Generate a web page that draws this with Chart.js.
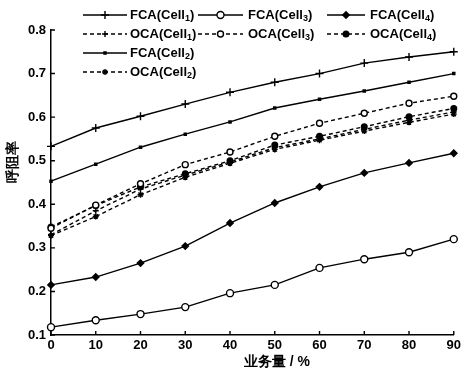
<!DOCTYPE html>
<html>
<head>
<meta charset="utf-8">
<script src="https://cdn.jsdelivr.net/npm/chart.js@4.4.1/dist/chart.umd.min.js"></script>
<style>
  html, body { margin: 0; padding: 0; background: #fff; }
  #wrap { width: 464px; height: 372px; position: relative; }
</style>
</head>
<body>
<div id="wrap"><canvas id="c" width="464" height="372"></canvas></div>
<script>
// ---- data ----
const categories = [0, 10, 20, 30, 40, 50, 60, 70, 80, 90];
const fcaCell1 = [0.533, 0.575, 0.602, 0.630, 0.657, 0.680, 0.700, 0.724, 0.738, 0.750];
const fcaCell2 = [0.453, 0.492, 0.531, 0.561, 0.589, 0.621, 0.641, 0.660, 0.680, 0.700];
const fcaCell3 = [0.118, 0.134, 0.148, 0.164, 0.196, 0.215, 0.254, 0.274, 0.290, 0.320];
const fcaCell4 = [0.215, 0.233, 0.265, 0.304, 0.357, 0.403, 0.440, 0.472, 0.495, 0.517];
const ocaCell1 = [0.330, 0.385, 0.435, 0.467, 0.497, 0.530, 0.550, 0.572, 0.593, 0.612];
const ocaCell2 = [0.328, 0.372, 0.422, 0.462, 0.494, 0.526, 0.547, 0.568, 0.588, 0.607];
const ocaCell3 = [0.345, 0.398, 0.447, 0.491, 0.520, 0.556, 0.586, 0.609, 0.632, 0.648];
const ocaCell4 = [0.348, 0.397, 0.440, 0.470, 0.500, 0.536, 0.556, 0.578, 0.601, 0.620];
const yMin = 0.1, yMax = 0.8, yStep = 0.1;
const xTitle = '业务量 / %';
const yTitle = '呼阻率';

const FONT = '"Liberation Sans", Arial, sans-serif';
const DASH = [4, 3];

function ds(label, sub, data, dashed, style, radius, fill) {
  return {
    label: label + sub, baseLabel: label, sub: sub,
    data: data,
    borderColor: '#000', borderWidth: 1.4,
    borderDash: dashed ? DASH : [],
    pointStyle: style, pointRadius: radius, pointBorderWidth: 1.4,
    pointBorderColor: '#000', pointBackgroundColor: fill,
    tension: 0, fill: false
  };
}

const datasets = [
  ds('FCA(Cell', '1', fcaCell1, false, 'cross', 4, '#000'),
  ds('OCA(Cell', '1', ocaCell1, true, 'cross', 3, '#000'),
  ds('FCA(Cell', '2', fcaCell2, false, 'rect', 1.5, '#000'),
  ds('OCA(Cell', '2', ocaCell2, true, 'star', 3, '#000'),
  ds('FCA(Cell', '3', fcaCell3, false, 'circle', 3.5, '#fff'),
  ds('OCA(Cell', '3', ocaCell3, true, 'circle', 3, '#fff'),
  ds('FCA(Cell', '4', fcaCell4, false, 'rectRot', 3.2, '#000'),
  ds('OCA(Cell', '4', ocaCell4, true, 'circle', 2.8, '#000')
];

// legend placement: [dataset index, column, row]
const legendLayout = [[0,0,0],[1,0,1],[2,0,2],[3,0,3],[4,1,0],[5,1,1],[6,2,0],[7,2,1]];
const legendCols = [{x0: 83, x1: 127, tx: 130}, {x0: 198, x1: 243, tx: 248}, {x0: 327, x1: 365, tx: 370}];
const legendRows = [15, 34, 53, 72];

function drawMarker(ctx, d, x, y) {
  ctx.save();
  ctx.setLineDash([]);
  ctx.strokeStyle = d.pointBorderColor;
  ctx.fillStyle = d.pointBackgroundColor;
  ctx.lineWidth = d.pointBorderWidth;
  if (Chart.helpers && Chart.helpers.drawPoint) {
    Chart.helpers.drawPoint(ctx, {pointStyle: d.pointStyle, radius: d.pointRadius, rotation: 0, borderWidth: d.pointBorderWidth}, x, y);
  }
  ctx.restore();
}

const overlay = {
  id: 'overlay',
  afterDraw(chart) {
    const ctx = chart.ctx;
    const xs = chart.scales.x, ys = chart.scales.y;
    const area = chart.chartArea;
    ctx.save();
    // inward ticks
    ctx.strokeStyle = '#000';
    ctx.lineWidth = 1.4;
    ctx.beginPath();
    ys.ticks.forEach(t => {
      const py = ys.getPixelForValue(t.value);
      ctx.moveTo(area.left, py); ctx.lineTo(area.left + 4, py);
    });
    categories.forEach((c, i) => {
      const px = xs.getPixelForValue(i);
      ctx.moveTo(px, area.bottom); ctx.lineTo(px, area.bottom - 4);
    });
    ctx.stroke();

    // legend
    legendLayout.forEach(([di, col, row]) => {
      const d = chart.data.datasets[di];
      const c = legendCols[col], y = legendRows[row];
      ctx.save();
      ctx.strokeStyle = '#000';
      ctx.lineWidth = 1.4;
      ctx.setLineDash(d.borderDash);
      ctx.beginPath(); ctx.moveTo(c.x0, y); ctx.lineTo(c.x1, y); ctx.stroke();
      ctx.restore();
      drawMarker(ctx, d, (c.x0 + c.x1) / 2, y);
      ctx.fillStyle = '#000';
      ctx.textBaseline = 'middle';
      ctx.textAlign = 'left';
      ctx.font = 'bold 13px ' + FONT;
      let tx = c.tx;
      ctx.fillText(d.baseLabel, tx, y);
      tx += ctx.measureText(d.baseLabel).width;
      ctx.font = 'bold 9px ' + FONT;
      ctx.fillText(d.sub, tx, y + 4);
      tx += ctx.measureText(d.sub).width;
      ctx.font = 'bold 13px ' + FONT;
      ctx.fillText(')', tx, y);
    });

    // axis titles
    ctx.fillStyle = '#000';
    ctx.font = 'bold 14px ' + FONT;
    ctx.textAlign = 'center';
    ctx.textBaseline = 'middle';
    ctx.fillText(xTitle, 277, 362);
    ctx.save();
    ctx.translate(13, 162);
    ctx.rotate(-Math.PI / 2);
    ctx.fillText(yTitle, 0, 0);
    ctx.restore();
    ctx.restore();
  }
};

new Chart(document.getElementById('c'), {
  type: 'line',
  data: { labels: categories, datasets: datasets },
  options: {
    responsive: false,
    animation: false,
    devicePixelRatio: 1,
    layout: { padding: { top: 30, right: 9, left: 0, bottom: 0 } },
    plugins: { legend: { display: false }, tooltip: { enabled: false } },
    scales: {
      x: {
        type: 'category',
        offset: false,
        grid: { display: false, drawTicks: false },
        border: { display: true, color: '#000', width: 1.5 },
        ticks: { color: '#000', padding: 3, maxRotation: 0, autoSkip: false, font: { family: FONT, size: 13, weight: 'bold' } },
        afterFit(s) { s.height = 37; }
      },
      y: {
        min: yMin, max: yMax,
        grid: { display: false, drawTicks: false },
        border: { display: true, color: '#000', width: 1.5 },
        ticks: { stepSize: yStep, color: '#000', padding: 5, font: { family: FONT, size: 13, weight: 'bold' },
                 callback: v => Number(v).toFixed(1) },
        afterFit(s) { s.width = 51; }
      }
    }
  },
  plugins: [overlay]
});
</script>
</body>
</html>
